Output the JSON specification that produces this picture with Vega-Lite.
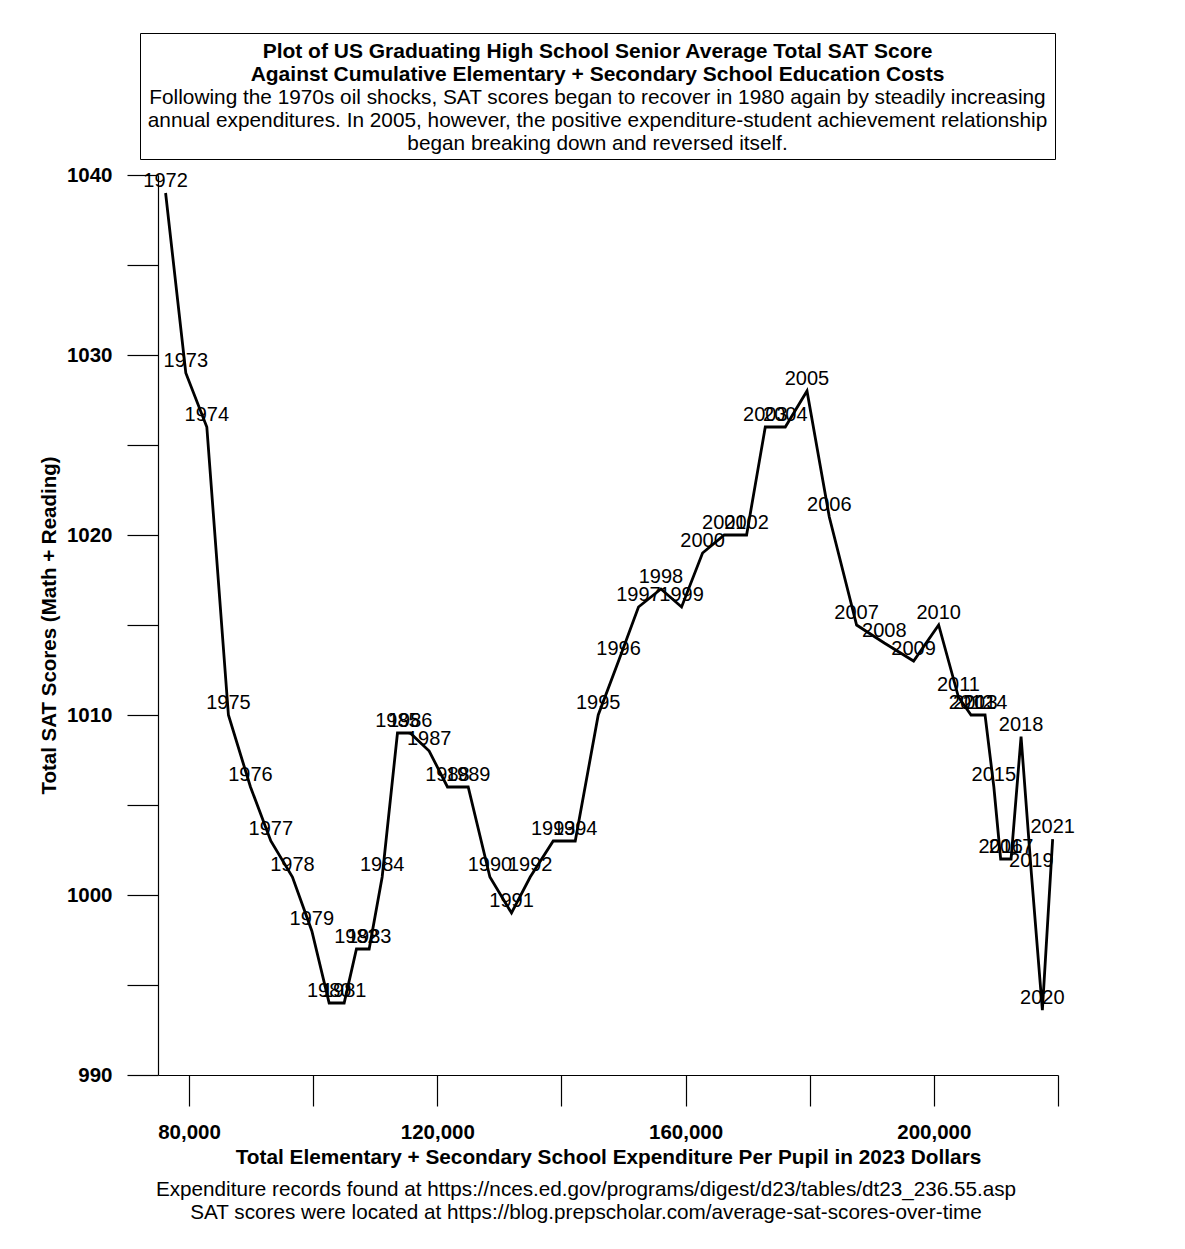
{
  "$schema": "https://vega.github.io/schema/vega-lite/v6.json",
  "padding": {"left": 39, "top": 32, "right": 10, "bottom": 10},
  "background": "white",
  "bounds": "flush",
  "center": true,
  "spacing": 16,
  "config": {
    "font": "Liberation Sans",
    "view": {"stroke": null},
    "axis": {"domainColor": "black", "tickColor": "black", "labelColor": "black", "titleColor": "black", "grid": false, "domainWidth": 1.2, "tickWidth": 1.2},
    "title": {"color": "black"}
  },
  "vconcat": [
    {
      "width": 915,
      "height": 126,
      "view": {"stroke": "black", "strokeWidth": 1},
      "layer": [
        {
          "data": {"values": [
            {"line": 1, "text": "Plot of US Graduating High School Senior Average Total SAT Score"},
            {"line": 2, "text": "Against Cumulative Elementary + Secondary School Education Costs"}
          ]},
          "mark": {"type": "text", "fontSize": 21, "fontWeight": "bold", "baseline": "middle", "color": "black"},
          "encoding": {
            "y": {"field": "line", "type": "ordinal", "scale": {"type": "point", "domain": [1, 2, 3, 4, 5], "padding": 0.73, "align": 0.56}, "axis": null},
            "text": {"field": "text", "type": "nominal"}
          }
        },
        {
          "data": {"values": [
            {"line": 3, "text": "Following the 1970s oil shocks, SAT scores began to recover in 1980 again by steadily increasing"},
            {"line": 4, "text": "annual expenditures. In 2005, however, the positive expenditure-student achievement relationship"},
            {"line": 5, "text": "began breaking down and reversed itself."}
          ]},
          "mark": {"type": "text", "fontSize": 20.8, "fontWeight": "normal", "baseline": "middle", "color": "black"},
          "encoding": {
            "y": {"field": "line", "type": "ordinal", "axis": null},
            "text": {"field": "text", "type": "nominal"}
          }
        }
      ]
    },
    {
      "width": 879,
      "height": 900,
      "title": {
        "text": ["Expenditure records found at https://nces.ed.gov/programs/digest/d23/tables/dt23_236.55.asp", "SAT scores were located at https://blog.prepscholar.com/average-sat-scores-over-time"],
        "orient": "bottom",
        "anchor": "middle",
        "frame": "group",
        "dx": -11.5,
        "offset": 13,
        "fontSize": 20.7,
        "fontWeight": "normal",
        "lineHeight": 23,
        "color": "black"
      },
      "data": {"values": [
        {"year": 1972, "spend": 76225, "sat": 1039},
        {"year": 1973, "spend": 79480, "sat": 1029},
        {"year": 1974, "spend": 82865, "sat": 1026},
        {"year": 1975, "spend": 86346, "sat": 1010},
        {"year": 1976, "spend": 89900, "sat": 1006},
        {"year": 1977, "spend": 93179, "sat": 1003},
        {"year": 1978, "spend": 96660, "sat": 1001},
        {"year": 1979, "spend": 99786, "sat": 998},
        {"year": 1980, "spend": 102575, "sat": 994},
        {"year": 1981, "spend": 104992, "sat": 994},
        {"year": 1982, "spend": 106974, "sat": 997},
        {"year": 1983, "spend": 109021, "sat": 997},
        {"year": 1984, "spend": 111116, "sat": 1001},
        {"year": 1985, "spend": 113582, "sat": 1009},
        {"year": 1986, "spend": 115628, "sat": 1009},
        {"year": 1987, "spend": 118690, "sat": 1008},
        {"year": 1988, "spend": 121640, "sat": 1006},
        {"year": 1989, "spend": 124976, "sat": 1006},
        {"year": 1990, "spend": 128473, "sat": 1001},
        {"year": 1991, "spend": 131955, "sat": 999},
        {"year": 1992, "spend": 134967, "sat": 1001},
        {"year": 1993, "spend": 138674, "sat": 1003},
        {"year": 1994, "spend": 142222, "sat": 1003},
        {"year": 1995, "spend": 145927, "sat": 1010},
        {"year": 1996, "spend": 149199, "sat": 1013},
        {"year": 1997, "spend": 152413, "sat": 1016},
        {"year": 1998, "spend": 156031, "sat": 1017},
        {"year": 1999, "spend": 159353, "sat": 1016},
        {"year": 2000, "spend": 162735, "sat": 1019},
        {"year": 2001, "spend": 166230, "sat": 1020},
        {"year": 2002, "spend": 169828, "sat": 1020},
        {"year": 2003, "spend": 172840, "sat": 1026},
        {"year": 2004, "spend": 176062, "sat": 1026},
        {"year": 2005, "spend": 179560, "sat": 1028},
        {"year": 2006, "spend": 183155, "sat": 1021},
        {"year": 2007, "spend": 187555, "sat": 1015},
        {"year": 2008, "spend": 192018, "sat": 1014},
        {"year": 2009, "spend": 196739, "sat": 1013},
        {"year": 2010, "spend": 200773, "sat": 1015},
        {"year": 2011, "spend": 203960, "sat": 1011},
        {"year": 2012, "spend": 205991, "sat": 1010},
        {"year": 2013, "spend": 206685, "sat": 1010},
        {"year": 2014, "spend": 208247, "sat": 1010},
        {"year": 2015, "spend": 209665, "sat": 1006},
        {"year": 2016, "spend": 210762, "sat": 1002},
        {"year": 2017, "spend": 212437, "sat": 1002},
        {"year": 2018, "spend": 214049, "sat": 1008.8},
        {"year": 2019, "spend": 215709, "sat": 1001.2},
        {"year": 2020, "spend": 217482, "sat": 993.6},
        {"year": 2021, "spend": 219140, "sat": 1003.1}
      ]},
      "layer": [
        {
          "mark": {"type": "line", "color": "black", "strokeWidth": 2.8, "strokeJoin": "miter"},
          "encoding": {
            "x": {
              "field": "spend", "type": "quantitative",
              "scale": {"domain": [75000, 220000], "range": [0, 900], "nice": false, "zero": false},
              "axis": {
                "values": [80000, 100000, 120000, 140000, 160000, 180000, 200000, 220000],
                "tickSize": 31,
                "encode": {"ticks": {"update": {"y2": {"signal": "datum.value % 40000 === 0 ? 31 : 16"}}}},
                "labelExpr": "datum.value % 40000 === 0 ? format(datum.value, ',') : ''",
                "labelFontSize": 20.5,
                "labelFontWeight": "bold",
                "labelPadding": 16,
                "labelFlush": false,
                "labelOverlap": false,
                "title": "Total Elementary + Secondary School Expenditure Per Pupil in 2023 Dollars",
                "titleFontSize": 20.8,
                "titleFontWeight": "bold",
                "titlePadding": 5
              }
            },
            "y": {
              "field": "sat", "type": "quantitative",
              "scale": {"domain": [990, 1040], "nice": false, "zero": false},
              "axis": {
                "values": [990, 995, 1000, 1005, 1010, 1015, 1020, 1025, 1030, 1035, 1040],
                "tickSize": 31,
                "encode": {"ticks": {"update": {"x2": {"signal": "datum.value % 10 === 0 ? -31 : -16"}}}},
                "labelExpr": "datum.value % 10 === 0 ? '' + datum.value : ''",
                "labelFontSize": 20.5,
                "labelFontWeight": "bold",
                "labelPadding": 15,
                "labelFlush": false,
                "labelOverlap": false,
                "title": "Total SAT Scores (Math + Reading)",
                "titleFontSize": 20.5,
                "titleFontWeight": "bold",
                "titlePadding": 7
              }
            },
            "order": {"field": "year", "type": "quantitative"}
          }
        },
        {
          "mark": {"type": "text", "fontSize": 20, "dy": -12, "baseline": "middle", "color": "black"},
          "encoding": {
            "x": {"field": "spend", "type": "quantitative"},
            "y": {"field": "sat", "type": "quantitative"},
            "text": {"field": "year", "type": "nominal"}
          }
        }
      ]
    }
  ]
}
